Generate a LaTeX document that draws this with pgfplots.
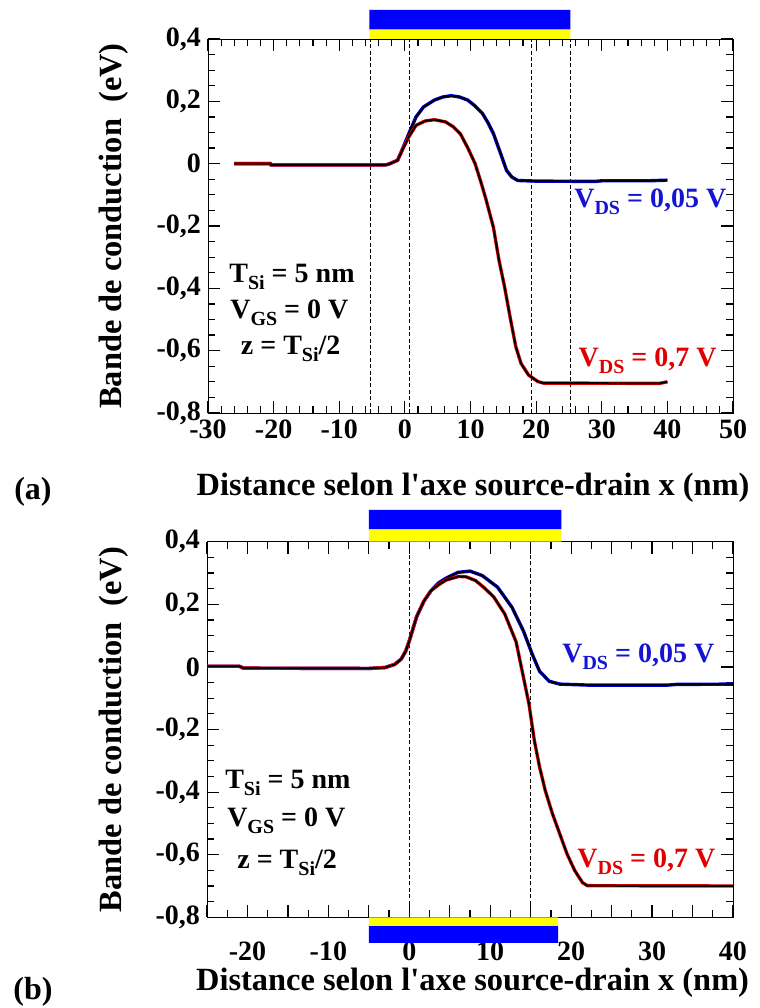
\documentclass[border=0pt]{standalone}
\usepackage{fontspec}
\setmainfont{Liberation Serif}
\usepackage{pgfplots}
\pgfplotsset{compat=1.18}

\definecolor{gateblue}{RGB}{0,0,255}
\definecolor{gateyellow}{RGB}{255,255,0}
\definecolor{lblblue}{RGB}{20,20,210}
\definecolor{lblred}{RGB}{225,0,0}

\newcommand{\sub}[1]{\raisebox{-0.55ex}{\fontsize{10}{10}\selectfont #1}}

\tikzset{note/.style={font=\fontsize{14}{16}\selectfont\bfseries, anchor=mid}}

\pgfplotsset{
  vline/.style={black, line width=0.5pt, dash pattern=on 2pt off 1.2pt},
  curve/.style={black, line width=1pt},
}

\begin{document}
\begin{tikzpicture}
\path (0,0) rectangle (380pt,504pt);

% ---------------- (a) ----------------
\begin{axis}[
  at={(104pt,297.5pt)},
  scale only axis, width=262.5pt, height=187pt, clip=false,
  tick pos=both,
  major tick length=6pt, minor tick length=3.5pt,
  tick style={black, line width=0.6pt},
  xmin=-30, xmax=50, ymin=-0.8, ymax=0.4,
  xtick={-30,-20,-10,0,10,20,30,40,50},
  xticklabels={{-30},{-20},{-10},0,10,20,30,40,50},
  minor x tick num=4,
  ytick={-0.8,-0.6,-0.4,-0.2,0,0.2,0.4},
  yticklabels={{-0,8},{-0,6},{-0,4},{-0,2},0,{0,2},{0,4}},
  minor y tick num=3,
  tick label style={font=\fontsize{14}{16}\selectfont\bfseries},
  label style={font=\fontsize{16.2}{18}\selectfont\bfseries},
  xlabel={Distance selon l\textquotesingle axe source-drain x (nm)},
  ylabel={Bande de conduction\ \ (eV)},
  xlabel style={at={(axis description cs:0.505,-0.2005)}, anchor=center},
  ylabel style={at={(axis description cs:-0.179,0.5)}, anchor=center},
]
% gate
\addplot[fill=gateyellow, draw=none] coordinates {(-5.4,0.4) (25.2,0.4) (25.2,0.431) (-5.4,0.431) (-5.4,0.4)};
\addplot[fill=gateblue, draw=none] coordinates {(-5.4,0.431) (25.2,0.431) (25.2,0.493) (-5.4,0.493) (-5.4,0.431)};
% limits
\addplot[vline] coordinates {(-5.3,-0.8) (-5.3,0.4)};
\addplot[vline] coordinates {(0.7,-0.8) (0.7,0.4)};
\addplot[vline] coordinates {(19.3,-0.8) (19.3,0.4)};
\addplot[vline] coordinates {(25.2,-0.8) (25.2,0.4)};
% VDS = 0.05 V
\addplot[gateblue, line width=1.7pt] coordinates {
 (-26,0.000) (-20.5,0.000) (-20.4,-0.004) (-3,-0.004) (-2.5,-0.002) (-1.1,0.011)
 (-0.25,0.053) (0.6,0.096) (1.7,0.15) (2.84,0.182) (4.5,0.204) (5.8,0.214)
 (7.05,0.218) (8.3,0.214) (9.58,0.204) (10.7,0.185) (11.82,0.161) (12.7,0.13)
 (13.5,0.096) (14.6,0.032) (15.5,-0.022) (16.3,-0.043) (17.2,-0.054) (20,-0.056)
 (29,-0.057) (30,-0.055) (37,-0.055) (40,-0.053)};
\addplot[curve] coordinates {
 (-26,0.000) (-20.5,0.000) (-20.4,-0.004) (-3,-0.004) (-2.5,-0.002) (-1.1,0.011)
 (-0.25,0.053) (0.6,0.096) (1.7,0.15) (2.84,0.182) (4.5,0.204) (5.8,0.214)
 (7.05,0.218) (8.3,0.214) (9.58,0.204) (10.7,0.185) (11.82,0.161) (12.7,0.13)
 (13.5,0.096) (14.6,0.032) (15.5,-0.022) (16.3,-0.043) (17.2,-0.054) (20,-0.056)
 (29,-0.057) (30,-0.055) (37,-0.055) (40,-0.053)};
% VDS = 0.7 V
\addplot[red, line width=1.7pt] coordinates {
 (-26,0.000) (-20.5,0.000) (-20.4,-0.004) (-3,-0.004) (-2.5,-0.002) (-1.1,0.011)
 (-0.25,0.05) (0.6,0.086) (1.7,0.123) (3.1,0.137) (4.5,0.141) (6.2,0.134)
 (7.4,0.118) (8.45,0.096) (9.6,0.05) (10.7,0.0) (11.6,-0.06) (12.3,-0.11)
 (13.5,-0.205) (14.35,-0.311) (15.2,-0.396) (16.03,-0.492) (16.9,-0.587)
 (17.7,-0.641) (18.84,-0.678) (20.25,-0.699) (21.1,-0.704) (38.8,-0.705) (40,-0.700)};
\addplot[curve] coordinates {
 (-26,0.000) (-20.5,0.000) (-20.4,-0.004) (-3,-0.004) (-2.5,-0.002) (-1.1,0.011)
 (-0.25,0.05) (0.6,0.086) (1.7,0.123) (3.1,0.137) (4.5,0.141) (6.2,0.134)
 (7.4,0.118) (8.45,0.096) (9.6,0.05) (10.7,0.0) (11.6,-0.06) (12.3,-0.11)
 (13.5,-0.205) (14.35,-0.311) (15.2,-0.396) (16.03,-0.492) (16.9,-0.587)
 (17.7,-0.641) (18.84,-0.678) (20.25,-0.699) (21.1,-0.704) (38.8,-0.705) (40,-0.700)};
\node[note] at (axis cs:-17.2,-0.365) {T\sub{Si} = 5 nm};
\node[note] at (axis cs:-17.6,-0.481) {V\sub{GS} = 0 V};
\node[note] at (axis cs:-17.4,-0.598) {z = T\sub{Si}/2};
\node[note, text=lblblue] at (axis cs:37.4,-0.126) {V\sub{DS} = 0,05 V};
\node[note, text=lblred] at (axis cs:37.0,-0.637) {V\sub{DS} = 0,7 V};
\end{axis}

% ---------------- (b) ----------------
\begin{axis}[
  at={(103.5pt,45.35pt)},
  scale only axis, width=263pt, height=187.8pt, clip=false,
  tick pos=both,
  major tick length=6pt, minor tick length=3.5pt,
  tick style={black, line width=0.6pt},
  xmin=-25, xmax=40, ymin=-0.8, ymax=0.4,
  xtick={-25,-20,-15,-10,-5,0,5,10,15,20,25,30,35,40},
  xticklabels={,{-20},,{-10},,0,,10,,20,,30,,40},
  minor x tick num=1,
  ytick={-0.8,-0.6,-0.4,-0.2,0,0.2,0.4},
  yticklabels={{-0,8},{-0,6},{-0,4},{-0,2},0,{0,2},{0,4}},
  minor y tick num=3,
  tick label style={font=\fontsize{14}{16}\selectfont\bfseries},
  xticklabel style={yshift=-9pt},
  label style={font=\fontsize{16.2}{18}\selectfont\bfseries},
  xlabel={Distance selon l\textquotesingle axe source-drain x (nm)},
  ylabel={Bande de conduction\ \ (eV)},
  xlabel style={at={(axis description cs:0.505,-0.175)}, anchor=center},
  ylabel style={at={(axis description cs:-0.177,0.5)}, anchor=center},
]
% gates
\addplot[fill=gateyellow, draw=none] coordinates {(-5,0.4) (18.8,0.4) (18.8,0.44) (-5,0.44) (-5,0.4)};
\addplot[fill=gateblue, draw=none] coordinates {(-5,0.44) (18.8,0.44) (18.8,0.502) (-5,0.502) (-5,0.44)};
\addplot[fill=gateyellow, draw=none] coordinates {(-5,-0.8) (18.4,-0.8) (18.4,-0.828) (-5,-0.828) (-5,-0.8)};
\addplot[fill=gateblue, draw=none] coordinates {(-5,-0.828) (18.4,-0.828) (18.4,-0.882) (-5,-0.882) (-5,-0.828)};
% limits
\addplot[vline] coordinates {(0,-0.8) (0,0.4)};
\addplot[vline] coordinates {(15,-0.8) (15,0.4)};
% VDS = 0.05 V
\addplot[gateblue, line width=1.7pt] coordinates {
 (-25,0.002) (-21,0.002) (-20.5,-0.004) (-5,-0.005) (-3,-0.002) (-1.8,0.008)
 (-1,0.025) (-0.45,0.05) (0,0.083) (0.9,0.16) (1.8,0.21) (2.7,0.244) (3.6,0.268)
 (4.5,0.283) (6,0.302) (7.5,0.306) (9,0.292) (10.9,0.255) (12.7,0.19) (14.1,0.115)
 (15.2,0.04) (16.1,-0.014) (17.3,-0.046) (18.6,-0.055) (22,-0.058) (32,-0.058)
 (33,-0.056) (40,-0.055)};
\addplot[curve] coordinates {
 (-25,0.002) (-21,0.002) (-20.5,-0.004) (-5,-0.005) (-3,-0.002) (-1.8,0.008)
 (-1,0.025) (-0.45,0.05) (0,0.083) (0.9,0.16) (1.8,0.21) (2.7,0.244) (3.6,0.268)
 (4.5,0.283) (6,0.302) (7.5,0.306) (9,0.292) (10.9,0.255) (12.7,0.19) (14.1,0.115)
 (15.2,0.04) (16.1,-0.014) (17.3,-0.046) (18.6,-0.055) (22,-0.058) (32,-0.058)
 (33,-0.056) (40,-0.055)};
% VDS = 0.7 V
\addplot[red, line width=1.7pt] coordinates {
 (-25,0.002) (-21,0.002) (-20.5,-0.004) (-5,-0.005) (-3,-0.002) (-1.8,0.008)
 (-1,0.025) (-0.45,0.05) (0,0.083) (0.9,0.16) (1.8,0.21) (2.7,0.244) (3.6,0.262)
 (4.5,0.277) (6.1,0.289) (7,0.288) (8.18,0.276) (9.3,0.252) (10.45,0.223)
 (11.8,0.169) (13.2,0.08) (14.0,-0.02) (14.8,-0.12) (15.45,-0.235) (16.1,-0.32)
 (16.8,-0.395) (17.7,-0.47) (18.6,-0.534) (19.5,-0.598) (20.45,-0.651)
 (21.4,-0.689) (22,-0.699) (40,-0.700)};
\addplot[curve] coordinates {
 (-25,0.002) (-21,0.002) (-20.5,-0.004) (-5,-0.005) (-3,-0.002) (-1.8,0.008)
 (-1,0.025) (-0.45,0.05) (0,0.083) (0.9,0.16) (1.8,0.21) (2.7,0.244) (3.6,0.262)
 (4.5,0.277) (6.1,0.289) (7,0.288) (8.18,0.276) (9.3,0.252) (10.45,0.223)
 (11.8,0.169) (13.2,0.08) (14.0,-0.02) (14.8,-0.12) (15.45,-0.235) (16.1,-0.32)
 (16.8,-0.395) (17.7,-0.47) (18.6,-0.534) (19.5,-0.598) (20.45,-0.651)
 (21.4,-0.689) (22,-0.699) (40,-0.700)};
\node[note] at (axis cs:-15.0,-0.373) {T\sub{Si} = 5 nm};
\node[note] at (axis cs:-15.2,-0.496) {V\sub{GS} = 0 V};
\node[note] at (axis cs:-15.1,-0.628) {z = T\sub{Si}/2};
\node[note, text=lblblue] at (axis cs:28.3,0.029) {V\sub{DS} = 0,05 V};
\node[note, text=lblred] at (axis cs:29.3,-0.625) {V\sub{DS} = 0,7 V};
\end{axis}

\node[font=\fontsize{16}{18}\selectfont\bfseries, inner sep=0pt] at (16.5pt,258pt) {(a)};
\node[font=\fontsize{16}{18}\selectfont\bfseries, inner sep=0pt] at (16.5pt,8pt) {(b)};
\end{tikzpicture}
\end{document}
